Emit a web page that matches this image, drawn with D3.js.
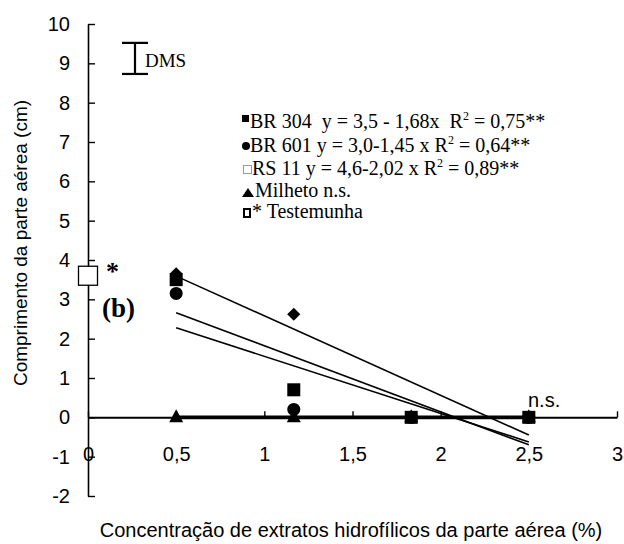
<!DOCTYPE html>
<html>
<head>
<meta charset="utf-8">
<script src="https://cdn.jsdelivr.net/npm/d3@7"></script>
<style>
  body { margin: 0; background: #fff; }
  svg { display: block; }
  text { white-space: pre; }
</style>
</head>
<body>
<svg id="chart"></svg>
<script>
// concentrations (%) and measured shoot length (cm)
const concentrations = [0.5, 1.167, 1.833, 2.5];
const br304 = [3.5, 0.7, 0, 0];
const br601 = [3.15, 0.2, 0, 0];
const rs11 = [3.65, 2.62, 0, 0];
const milheto = [0, 0, 0, 0];
const testemunha = {x: 0, y: 3.6};

// regression fits y = a + b x, drawn between 0.5 and 2.5
const fitNames = ['RS 11', 'BR 304', 'BR 601', 'Milheto'];
const fitA = [4.6, 3.5, 3.0, 0];
const fitB = [-2.02, -1.68, -1.45, 0];
const fitRange = [0.5, 2.5];

const dms = [8.73, 9.52];
const xTicks = [0, 0.5, 1, 1.5, 2, 2.5, 3];
const yTicks = [-2, -1, 0, 1, 2, 3, 4, 5, 6, 7, 8, 9, 10];

const legendLines = [
    ['BR 304  y = 3,5 - 1,68x  R', '2', ' = 0,75**'],
    ['BR 601 y = 3,0-1,45 x R', '2', ' = 0,64**'],
    ['RS 11 y = 4,6-2,02 x R', '2', ' = 0,89**'],
    ['Milheto n.s.'],
    ['* Testemunha']
];

const width = 624, height = 544;
const sans = '"Liberation Sans", Arial, sans-serif';
const serif = '"Liberation Serif", "Times New Roman", serif';

const svg = d3.select('#chart').attr('width', width).attr('height', height);

const xscale = d3.scaleLinear().domain([0, 3]).range([88, 617]);
const yscale = d3.scaleLinear().domain([-2, 10]).range([496, 24]);

const fmt = d => String(d).replace('.', ',');

// y axis
const yaxis = d3.axisLeft(yscale)
    .tickValues(yTicks)
    .tickFormat(fmt)
    .tickSizeInner(-7)
    .tickSizeOuter(0)
    .tickPadding(18);

const yg = svg.append('g')
    .attr('transform', `translate(${xscale(0)},0)`)
    .call(yaxis);
yg.select('.domain').attr('stroke-width', 1.6);
yg.selectAll('.tick line').attr('stroke-width', 1.4);
yg.selectAll('.tick text')
    .style('font-family', sans)
    .style('font-size', '20px')
    .attr('fill', '#000');

// x axis at y = 0
const xaxis = d3.axisBottom(xscale)
    .tickValues(xTicks)
    .tickFormat(fmt)
    .tickSizeInner(-6)
    .tickSizeOuter(0)
    .tickPadding(29);

const xg = svg.append('g')
    .attr('transform', `translate(0,${yscale(0)})`)
    .call(xaxis);
xg.select('.domain').attr('stroke-width', 2);
xg.selectAll('.tick line').attr('stroke-width', 1.4);
xg.selectAll('.tick text')
    .style('font-family', sans)
    .style('font-size', '20px')
    .attr('fill', '#000');

// axis titles
svg.append('text')
    .attr('x', 351)
    .attr('y', 537)
    .attr('text-anchor', 'middle')
    .style('font-family', sans)
    .style('font-size', '20px')
    .text('Concentração de extratos hidrofílicos da parte aérea (%)');

svg.append('text')
    .attr('transform', `translate(27,${243}) rotate(-90)`)
    .attr('text-anchor', 'middle')
    .style('font-family', sans)
    .style('font-size', '19px')
    .text('Comprimento da parte aérea (cm)');

// regression lines
fitA.forEach((a, i) => {
    const b = fitB[i];
    svg.append('line')
        .attr('x1', xscale(fitRange[0]))
        .attr('x2', xscale(fitRange[1]))
        .attr('y1', yscale(a + b * fitRange[0]))
        .attr('y2', yscale(a + b * fitRange[1]))
        .attr('stroke', '#000')
        .attr('stroke-width', fitNames[i] === 'Milheto' ? 3.6 : 1.6);
});

// points
const pts = (vals) => concentrations.map((c, i) => ({x: c, y: vals[i]}));

svg.selectAll('.rs11')
    .data(pts(rs11))
    .join('path')
    .attr('class', 'rs11')
    .attr('d', d3.symbol(d3.symbolDiamond2, 110))
    .attr('transform', d => `translate(${xscale(d.x)},${yscale(d.y)})`)
    .attr('fill', '#000');

svg.selectAll('.br601')
    .data(pts(br601))
    .join('circle')
    .attr('class', 'br601')
    .attr('cx', d => xscale(d.x))
    .attr('cy', d => yscale(d.y))
    .attr('r', 6.5)
    .attr('fill', '#000');

svg.selectAll('.milheto')
    .data(pts(milheto))
    .join('path')
    .attr('class', 'milheto')
    .attr('d', 'M0,-7L7,6L-7,6Z')
    .attr('transform', d => `translate(${xscale(d.x)},${yscale(d.y) - 1})`)
    .attr('fill', '#000');

svg.selectAll('.br304')
    .data(pts(br304))
    .join('rect')
    .attr('class', 'br304')
    .attr('x', d => xscale(d.x) - 6.5)
    .attr('y', d => yscale(d.y) - 6.5)
    .attr('width', 13)
    .attr('height', 13)
    .attr('fill', '#000');

// control (testemunha) at x = 0
svg.append('rect')
    .attr('x', xscale(testemunha.x) - 9.5)
    .attr('y', yscale(testemunha.y) - 9.5)
    .attr('width', 19)
    .attr('height', 19)
    .attr('fill', '#fff')
    .attr('stroke', '#000')
    .attr('stroke-width', 1.3);

svg.append('text')
    .attr('x', xscale(testemunha.x) + 18)
    .attr('y', yscale(testemunha.y) + 4)
    .style('font-family', serif)
    .style('font-weight', 'bold')
    .style('font-size', '26px')
    .text('*');

// DMS bar
const dmsX = 135;
const dmsG = svg.append('g').attr('stroke', '#000').attr('stroke-width', 2.2);
dmsG.append('line').attr('x1', dmsX).attr('x2', dmsX).attr('y1', yscale(dms[0])).attr('y2', yscale(dms[1]));
dmsG.append('line').attr('x1', dmsX - 13).attr('x2', dmsX + 13).attr('y1', yscale(dms[0])).attr('y2', yscale(dms[0]));
dmsG.append('line').attr('x1', dmsX - 13).attr('x2', dmsX + 13).attr('y1', yscale(dms[1])).attr('y2', yscale(dms[1]));
svg.append('text')
    .attr('x', 145)
    .attr('y', 67)
    .style('font-family', serif)
    .style('font-size', '19px')
    .text('DMS');

// panel label
svg.append('text')
    .attr('x', 102)
    .attr('y', 317)
    .style('font-family', serif)
    .style('font-weight', 'bold')
    .style('font-size', '27px')
    .text('(b)');

svg.append('text')
    .attr('x', 528)
    .attr('y', 407)
    .style('font-family', sans)
    .style('font-size', '20px')
    .text('n.s.');

// legend
const legX = [250, 250, 252, 255, 252];
const legY = [128, 152, 175, 197, 218];
const leg = svg.append('g');

leg.append('rect').attr('x', 242).attr('y', 115).attr('width', 7).attr('height', 7).attr('fill', '#000');
leg.append('circle').attr('cx', 246).attr('cy', 146).attr('r', 4).attr('fill', '#000');
leg.append('rect').attr('x', 243.5).attr('y', 165.5).attr('width', 8).attr('height', 8)
    .attr('fill', 'none').attr('stroke', '#999').attr('stroke-width', 1);
leg.append('path').attr('d', 'M248,188L254,197L242,197Z').attr('fill', '#000');
leg.append('rect').attr('x', 244).attr('y', 209).attr('width', 6).attr('height', 8)
    .attr('fill', 'none').attr('stroke', '#000').attr('stroke-width', 2);

legendLines.forEach((parts, i) => {
    const t = leg.append('text')
        .attr('x', legX[i])
        .attr('y', legY[i])
        .style('font-family', serif)
        .style('font-size', '20px');
    t.append('tspan').text(parts[0]);
    if (parts.length > 1) {
        t.append('tspan').attr('dy', -8).style('font-size', '12px').text(parts[1]);
        t.append('tspan').attr('dy', 8).text(parts[2]);
    }
});
</script>
</body>
</html>
